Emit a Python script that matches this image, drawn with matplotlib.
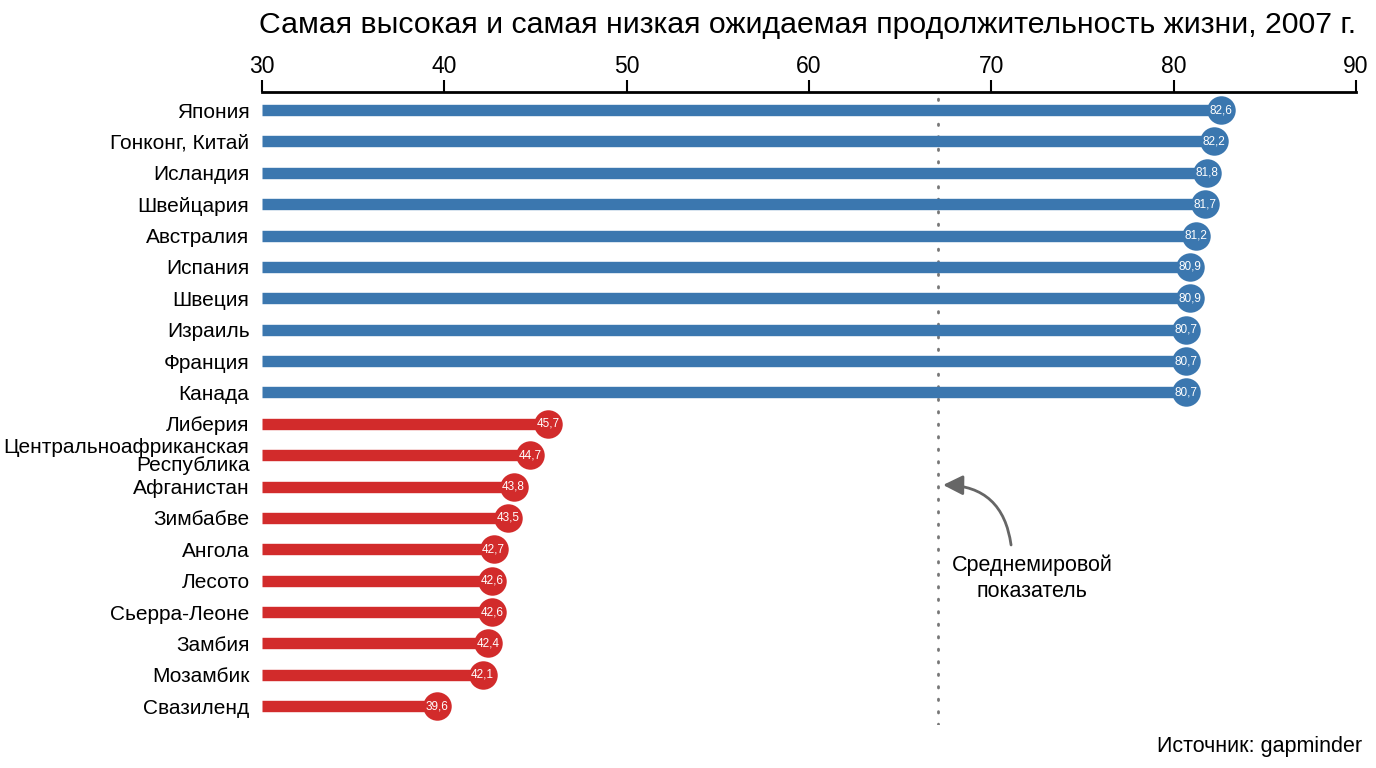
import matplotlib.pyplot as plt
from matplotlib.patches import FancyArrowPatch

plt.rcParams['font.family'] = ['Liberation Sans', 'DejaVu Sans']

# данные
countries_high = ['Япония', 'Гонконг, Китай', 'Исландия', 'Швейцария', 'Австралия',
                  'Испания', 'Швеция', 'Израиль', 'Франция', 'Канада']
values_high = [82.6, 82.2, 81.8, 81.7, 81.2, 80.9, 80.9, 80.7, 80.7, 80.7]

countries_low = ['Либерия', 'Центральноафриканская\nРеспублика', 'Афганистан', 'Зимбабве',
                 'Ангола', 'Лесото', 'Сьерра-Леоне', 'Замбия', 'Мозамбик', 'Свазиленд']
values_low = [45.7, 44.7, 43.8, 43.5, 42.7, 42.6, 42.6, 42.4, 42.1, 39.6]

world_avg = 67.1
x_ticks = [30, 40, 50, 60, 70, 80, 90]

blue = '#3b77af'
red = '#d22b2b'

labels = countries_high + countries_low
values = values_high + values_low
colors = [blue] * len(values_high) + [red] * len(values_low)

fig = plt.figure(figsize=(13.76, 7.68), dpi=100)
ax = fig.add_axes([0.1904, 0.056, 0.7951, 0.824])

for i, (v, c) in enumerate(zip(values, colors)):
    ax.plot([30, v], [i, i], color=c, lw=8.2, solid_capstyle='butt', zorder=2)
    ax.plot(v, i, 'o', color=c, ms=20.5, mec='none', zorder=3)
    ax.text(v, i, f'{v:.1f}'.replace('.', ','), color='white', fontsize=8.5,
            ha='center', va='center', zorder=4)

ax.axvline(world_avg, color='#777777', lw=2, ls=(0, (0.5, 4)), dash_capstyle='round', zorder=1)

ax.set_xlim(30, 90)
ax.set_ylim(len(values) - 0.4, -0.57)
ax.set_yticks(range(len(labels)))
ax.set_yticklabels(labels, fontsize=15, linespacing=0.95)
ax.tick_params(axis='y', length=0, pad=9)

ax.xaxis.tick_top()
ax.set_xticks(x_ticks)
ax.tick_params(axis='x', labelsize=16.5, length=9, width=1.5, direction='out', pad=1)

for s in ['left', 'right', 'bottom']:
    ax.spines[s].set_visible(False)
ax.spines['top'].set_linewidth(2)

# аннотация
arrow = FancyArrowPatch((71.1, 13.95), (67.2, 11.95), connectionstyle='arc3,rad=0.45',
                        arrowstyle='-|>,head_length=12,head_width=6', color='#666666',
                        lw=2, zorder=5)
ax.add_patch(arrow)
ax.text(72.25, 14.93, 'Среднемировой\nпоказатель', ha='center', va='center',
        fontsize=15.5, linespacing=1.3)

fig.text(0.587, 0.967, 'Самая высокая и самая низкая ожидаемая продолжительность жизни, 2007 г.',
         ha='center', va='center', fontsize=21.8)
fig.text(0.99, 0.028, 'Источник: gapminder', ha='right', va='center', fontsize=15.5)

fig.savefig('out.png', dpi=100)
